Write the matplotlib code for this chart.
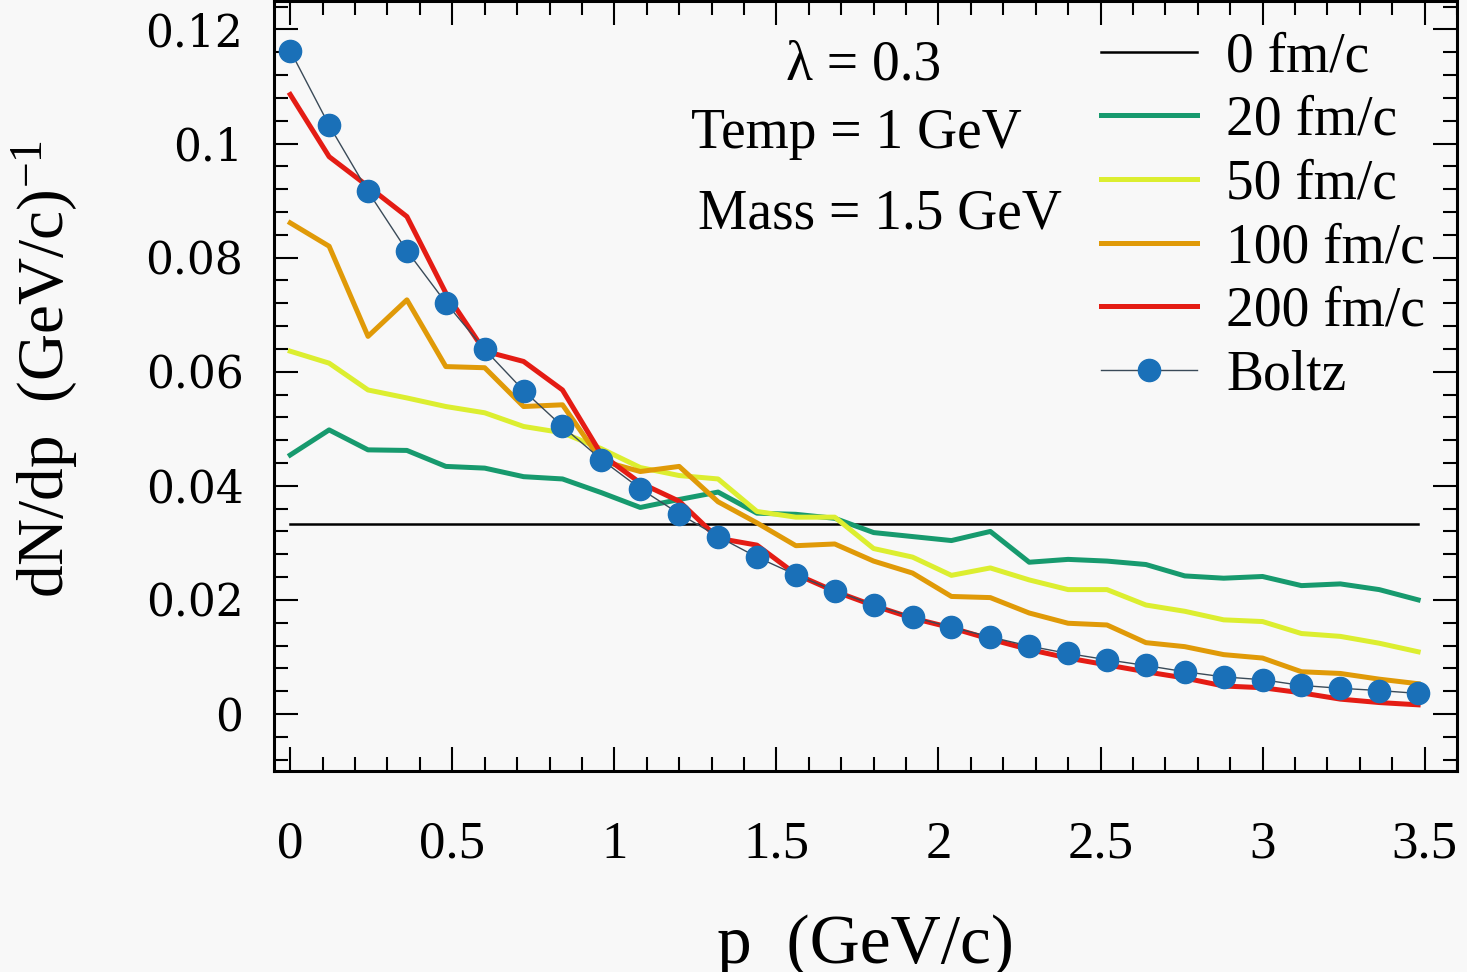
import matplotlib
matplotlib.use("Agg")
import matplotlib.pyplot as plt
from matplotlib import font_manager
from matplotlib.ticker import MultipleLocator

plt.rcParams['font.family'] = ['Liberation Serif', 'DejaVu Serif']
plt.rcParams['mathtext.fontset'] = 'custom'
plt.rcParams['mathtext.rm'] = 'Liberation Serif'
plt.rcParams['mathtext.it'] = 'Liberation Serif:italic'

# momentum bins (GeV/c)
p = [0.00, 0.12, 0.24, 0.36, 0.48, 0.60, 0.72, 0.84, 0.96, 1.08,
     1.20, 1.32, 1.44, 1.56, 1.68, 1.80, 1.92, 2.04, 2.16, 2.28,
     2.40, 2.52, 2.64, 2.76, 2.88, 3.00, 3.12, 3.24, 3.36, 3.48]

t0 = [0.0333] * 30
t20 = [0.0454, 0.0498, 0.0463, 0.0462, 0.0434, 0.0431, 0.0416, 0.0412, 0.0388, 0.0362,
       0.0376, 0.0389, 0.0352, 0.0350, 0.0343, 0.0318, 0.0311, 0.0304, 0.0320, 0.0266,
       0.0271, 0.0268, 0.0262, 0.0242, 0.0238, 0.0241, 0.0225, 0.0228, 0.0218, 0.0200]
t50 = [0.0636, 0.0615, 0.0568, 0.0554, 0.0539, 0.0528, 0.0504, 0.0493, 0.0465, 0.0432,
       0.0418, 0.0412, 0.0355, 0.0345, 0.0345, 0.0290, 0.0275, 0.0243, 0.0256, 0.0235,
       0.0218, 0.0218, 0.0191, 0.0180, 0.0165, 0.0162, 0.0141, 0.0136, 0.0124, 0.0109]
t100 = [0.0861, 0.0820, 0.0662, 0.0726, 0.0609, 0.0607, 0.0539, 0.0542, 0.0444, 0.0425,
        0.0434, 0.0372, 0.0335, 0.0295, 0.0298, 0.0268, 0.0247, 0.0206, 0.0204, 0.0177,
        0.0159, 0.0156, 0.0125, 0.0118, 0.0104, 0.0098, 0.0074, 0.0071, 0.0061, 0.0053]
t200 = [0.1086, 0.0977, 0.0925, 0.0872, 0.0738, 0.0636, 0.0618, 0.0568, 0.0455, 0.0405,
        0.0373, 0.0308, 0.0296, 0.0245, 0.0215, 0.0190, 0.0168, 0.0151, 0.0131, 0.0113,
        0.0098, 0.0086, 0.0074, 0.0063, 0.0049, 0.0046, 0.0037, 0.0026, 0.0020, 0.0016]
boltz = [0.1163, 0.1032, 0.0916, 0.0812, 0.0721, 0.0639, 0.0567, 0.0504, 0.0446, 0.0395,
         0.0351, 0.0311, 0.0275, 0.0244, 0.0216, 0.0191, 0.0170, 0.0152, 0.0135, 0.0119,
         0.0106, 0.0095, 0.0085, 0.0074, 0.0065, 0.0060, 0.0050, 0.0045, 0.0041, 0.0036]

# y tick labels are in a wider serif face; fall back to a bigger Liberation Serif
try:
    font_manager.findfont('DejaVu Serif', fallback_to_default=False)
    ytick_family, ytick_size = 'DejaVu Serif', 31.7
except ValueError:
    ytick_family, ytick_size = 'Liberation Serif', 35

bg = '#f8f8f8'
fig = plt.figure(figsize=(14.67, 9.72), dpi=100, facecolor=bg)
ax = fig.add_axes([0.1868, 0.2068, 0.8064, 0.7922])
ax.set_facecolor(bg)

ax.plot(p, t0, color='black', lw=1.8, label='0 fm/c')
ax.plot(p, t20, color='#179a6e', lw=3.6, label='20 fm/c')
ax.plot(p, t50, color='#dcee30', lw=3.6, label='50 fm/c')
ax.plot(p, t100, color='#e09a08', lw=3.6, label='100 fm/c')
ax.plot(p, t200, color='#e41c14', lw=3.6, label='200 fm/c')
ax.plot(p, boltz, color='#3a4a58', lw=1.0, marker='o', ms=16,
        mfc='#1a70b8', mec='#1a70b8', label='Boltz')

ax.set_xlim(-0.05, 3.6)
ax.set_ylim(-0.01, 0.125)
ax.xaxis.set_major_locator(MultipleLocator(0.5))
ax.xaxis.set_minor_locator(MultipleLocator(0.1))
ax.yaxis.set_major_locator(MultipleLocator(0.02))
ax.yaxis.set_minor_locator(MultipleLocator(0.004))
ax.xaxis.set_major_formatter(plt.FuncFormatter(lambda v, _: f'{v:g}'))
ax.yaxis.set_major_formatter(plt.FuncFormatter(lambda v, _: f'{v:g}'))

ax.tick_params(which='both', direction='in', top=True, right=True, width=1.5)
ax.tick_params(which='major', length=17)
ax.tick_params(which='minor', length=10)
ax.tick_params(axis='x', which='major', labelsize=38, pad=36)
ax.tick_params(axis='y', which='major', labelsize=ytick_size, pad=22,
               labelfontfamily=ytick_family)
for s in ax.spines.values():
    s.set_linewidth(2.2)

ax.set_xlabel('p  (GeV/c)', fontsize=50)
ax.xaxis.label.set_va('baseline')
ax.xaxis.set_label_coords(0.5, -0.249)
ax.set_ylabel(r'dN/dp  (GeV/c)$^{\mathregular{-1}}$', fontsize=47)
ax.yaxis.set_label_coords(-0.164, 0.522)

ax.text(0.4987, 0.898, 'λ = 0.3', transform=ax.transAxes, fontsize=40,
        ha='center', va='baseline')
ax.text(0.492, 0.809, 'Temp = 1 GeV', transform=ax.transAxes, fontsize=40,
        ha='center', va='baseline')
ax.text(0.512, 0.705, 'Mass = 1.5 GeV', transform=ax.transAxes, fontsize=40,
        ha='center', va='baseline')

ax.legend(loc='upper left', bbox_to_anchor=(0.699, 0.961), frameon=False,
          fontsize=40, handlelength=1.73, handletextpad=0.52, labelspacing=0.21,
          borderpad=0, borderaxespad=0)

fig.savefig('out.png', dpi=100, facecolor=bg)
